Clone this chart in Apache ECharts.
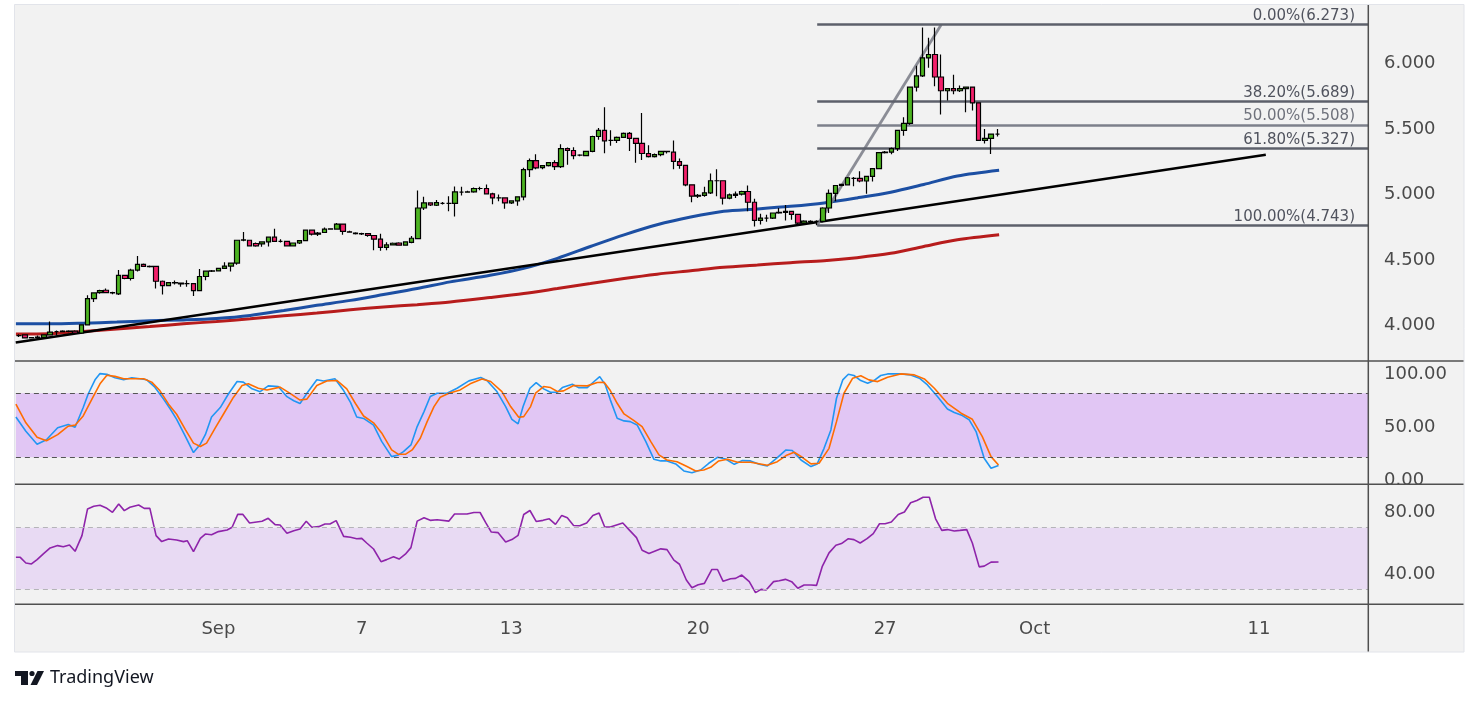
<!DOCTYPE html>
<html><head><meta charset="utf-8">
<script src="https://cdn.jsdelivr.net/npm/echarts@6/dist/echarts.min.js"></script>
<style>html,body{margin:0;padding:0;background:#fff;}#c{width:1479px;height:705px;}</style>
</head><body><div id="c"></div>
<script>
// ---- DATA ----
// candles: [open, close, low, high], 6h bars
const candles = [
[3.90,3.90,3.89,3.91],[3.905,3.882,3.88,3.91],[3.882,3.884,3.88,3.886],[3.887,3.889,3.872,3.90],[3.887,3.905,3.885,3.91],
[3.905,3.926,3.90,4.008],[3.93,3.93,3.90,3.939],[3.93,3.934,3.925,3.94],[3.934,3.932,3.925,3.94],[3.934,3.92,3.915,3.94],
[3.92,3.982,3.915,3.985],[3.982,4.182,3.98,4.208],[4.182,4.226,4.156,4.23],[4.228,4.243,4.22,4.25],[4.246,4.228,4.225,4.259],
[4.226,4.228,4.215,4.235],[4.218,4.359,4.21,4.40],[4.359,4.336,4.33,4.365],[4.336,4.40,4.32,4.41],[4.40,4.444,4.39,4.508],
[4.444,4.428,4.425,4.45],[4.428,4.426,4.42,4.435],[4.428,4.315,4.259,4.43],[4.315,4.282,4.213,4.32],[4.282,4.305,4.28,4.31],
[4.305,4.303,4.29,4.32],[4.30,4.295,4.272,4.30],[4.297,4.297,4.272,4.323],[4.297,4.243,4.203,4.30],[4.243,4.351,4.24,4.408],
[4.351,4.392,4.323,4.395],[4.392,4.394,4.385,4.40],[4.394,4.413,4.39,4.415],[4.413,4.431,4.41,4.459],[4.431,4.454,4.39,4.458],
[4.454,4.628,4.44,4.63],[4.628,4.630,4.62,4.69],[4.628,4.585,4.58,4.63],[4.603,4.585,4.578,4.61],[4.60,4.615,4.578,4.62],
[4.615,4.651,4.58,4.655],[4.651,4.62,4.615,4.715],[4.62,4.62,4.61,4.635],[4.62,4.585,4.58,4.625],[4.585,4.607,4.58,4.61],
[4.607,4.625,4.60,4.63],[4.625,4.705,4.62,4.71],[4.705,4.674,4.665,4.71],[4.674,4.683,4.66,4.69],[4.687,4.713,4.683,4.725],
[4.713,4.715,4.71,4.72],[4.713,4.751,4.71,4.76],[4.751,4.695,4.67,4.755],[4.692,4.690,4.685,4.70],[4.682,4.679,4.672,4.688],
[4.679,4.677,4.667,4.685],[4.679,4.664,4.654,4.682],[4.664,4.636,4.551,4.666],[4.636,4.574,4.548,4.677],[4.574,4.592,4.551,4.613],
[4.592,4.605,4.59,4.61],[4.607,4.59,4.585,4.612],[4.59,4.615,4.587,4.62],[4.612,4.643,4.605,4.66],[4.641,4.874,4.636,5.008],
[4.874,4.913,4.859,4.959],[4.913,4.897,4.89,4.915],[4.895,4.915,4.89,4.936],[4.91,4.91,4.90,4.92],[4.91,4.91,4.849,4.964],
[4.91,4.997,4.81,5.038],[4.995,4.995,4.97,5.036],[4.995,4.997,4.99,5.005],[4.997,5.023,4.99,5.03],[5.023,5.023,5.01,5.036],
[5.023,4.982,4.977,5.054],[4.982,4.951,4.902,4.99],[4.951,4.951,4.926,4.977],[4.951,4.913,4.869,4.955],[4.913,4.928,4.905,4.93],
[4.928,4.959,4.892,4.96],[4.959,5.167,4.933,5.182],[5.167,5.236,5.11,5.251],[5.236,5.18,5.17,5.285],[5.182,5.197,5.17,5.20],
[5.197,5.22,5.19,5.225],[5.22,5.19,5.164,5.238],[5.19,5.328,5.18,5.361],[5.328,5.313,5.205,5.335],[5.313,5.274,5.246,5.338],
[5.277,5.277,5.27,5.285],[5.274,5.307,5.27,5.31],[5.307,5.42,5.30,5.425],[5.42,5.467,5.395,5.484],[5.467,5.387,5.292,5.644],
[5.39,5.39,5.349,5.467],[5.39,5.413,5.37,5.42],[5.413,5.443,5.41,5.45],[5.443,5.405,5.31,5.455],[5.405,5.367,5.22,5.41],
[5.367,5.29,5.241,5.60],[5.29,5.266,5.26,5.354],[5.266,5.282,5.26,5.29],[5.282,5.307,5.27,5.31],[5.305,5.307,5.29,5.31],
[5.30,5.23,5.17,5.39],[5.228,5.20,5.174,5.251],[5.20,5.051,5.04,5.205],[5.051,4.964,4.918,5.055],[4.964,4.97,4.95,4.98],
[4.97,4.99,4.96,5.036],[4.99,5.082,4.98,5.138],[5.082,5.082,4.964,5.169],[5.082,4.949,4.90,5.085],[4.949,4.974,4.94,4.985],
[4.97,4.98,4.95,5.00],[4.98,5.00,4.97,5.005],[5.00,4.918,4.849,5.046],[4.918,4.779,4.733,4.944],[4.779,4.797,4.749,4.831],
[4.797,4.797,4.77,4.823],[4.797,4.836,4.79,4.84],[4.836,4.84,4.83,4.874],[4.84,4.849,4.779,4.897],[4.849,4.826,4.785,4.85],
[4.826,4.759,4.75,4.83],[4.759,4.774,4.75,4.78],[4.77,4.772,4.76,4.78],[4.772,4.772,4.743,4.78],[4.772,4.874,4.765,4.88],
[4.874,4.985,4.836,5.015],[4.985,5.046,4.926,5.05],[5.046,5.054,5.04,5.06],[5.051,5.105,5.045,5.11],[5.10,5.10,5.041,5.11],
[5.10,5.08,5.07,5.154],[5.08,5.115,4.982,5.12],[5.115,5.174,5.077,5.18],[5.174,5.297,5.17,5.30],[5.297,5.30,5.29,5.31],
[5.30,5.328,5.284,5.335],[5.328,5.467,5.31,5.47],[5.467,5.52,5.426,5.567],[5.52,5.797,5.51,5.80],[5.797,5.882,5.764,5.959],
[5.882,6.02,5.875,6.251],[6.02,6.046,5.944,6.174],[6.046,5.874,5.803,6.251],[5.874,5.769,5.587,6.046],[5.769,5.785,5.695,5.79],
[5.785,5.769,5.743,5.892],[5.769,5.785,5.759,5.81],[5.785,5.797,5.605,5.80],[5.797,5.677,5.618,5.80],[5.677,5.39,5.385,5.68],
[5.39,5.405,5.367,5.477],[5.405,5.438,5.287,5.44],[5.438,5.438,5.42,5.477]
];
// moving averages: [bar, price]
const maBlue = [[-0.5,3.990],[5.0,3.990],[10.3,3.995],[15.7,4.003],[21.0,4.013],[26.4,4.020],[31.7,4.031],[37.1,4.054],[42.5,4.092],[47.8,4.131],[53.2,4.169],[58.5,4.213],[63.9,4.259],[69.2,4.310],[75.6,4.36],[81.0,4.413],[86.4,4.490],[91.7,4.580],[97.1,4.669],[102.4,4.746],[107.8,4.805],[113.1,4.849],[118.5,4.867],[123.8,4.887],[129.2,4.913],[134.5,4.951],[139.9,4.995],[145.2,5.054],[150.6,5.118],[157.3,5.162]];
const maRed = [[-0.5,3.913],[5.0,3.915],[10.3,3.931],[15.7,3.951],[21.0,3.969],[26.4,3.990],[31.7,4.008],[37.1,4.028],[42.5,4.051],[47.8,4.072],[53.2,4.097],[58.5,4.118],[63.9,4.136],[69.2,4.156],[75.6,4.19],[81.0,4.221],[86.4,4.259],[91.7,4.297],[97.1,4.336],[102.4,4.369],[107.8,4.395],[113.1,4.421],[118.5,4.439],[123.8,4.457],[129.2,4.472],[134.5,4.495],[139.9,4.528],[145.2,4.580],[150.6,4.631],[157.3,4.669]];
const trendLine = [[-0.53,3.848],[200.1,5.281]];
const fibStart = [128.1,4.743];
const fibEnd = [148.0,6.273];
const fibLevels = [0,0.382,0.5,0.618,1];
const fibPrices = [6.273,5.689,5.508,5.327,4.743];
// stochastic %K / %D and RSI: [bar, value]
const stochK = [[-0.5,57.7],[1.1,44.4],[2.9,32.3],[4.4,36.4],[6.2,47.6],[7.9,50.7],[9.0,48.2],[10.3,66.6],[11.1,79.3],[12.2,92.6],[13.0,98.4],[14.1,97.7],[15.4,94.5],[16.8,92.6],[18.1,94.5],[19.4,93.6],[20.5,92.6],[21.8,85.7],[23.2,74.5],[24.3,65.0],[25.3,55.5],[26.7,39.6],[28.0,24.4],[29.1,32.3],[29.9,41.2],[30.9,57.7],[32.3,66.6],[33.6,79.3],[35.0,91.0],[36.0,90.4],[37.4,84.1],[38.7,81.5],[40.0,86.9],[41.6,86.3],[43.0,76.8],[44.1,73.0],[45.1,70.4],[46.2,79.9],[47.8,92.6],[48.9,91.4],[50.7,93.6],[52.1,82.5],[53.2,71.4],[54.2,57.7],[55.3,56.4],[56.9,50.1],[58.2,34.9],[59.8,20.6],[60.9,22.2],[61.7,25.3],[62.9,31.6],[63.9,48.8],[65.0,62.8],[66.0,76.9],[67.1,80.0],[68.7,80.0],[70.3,84.7],[72.2,91.6],[74.1,94.7],[75.1,91.9],[76.7,81.6],[78.1,67.5],[79.1,55.6],[80.1,51.3],[80.9,67.5],[82.0,84.7],[83.0,90.0],[84.2,84.1],[85.3,80.9],[86.4,80.9],[87.2,85.3],[88.8,88.4],[89.8,85.3],[91.2,85.3],[92.3,91.0],[93.2,95.6],[94.1,87.8],[94.9,73.8],[96.0,56.6],[97.1,54.1],[98.1,53.4],[99.2,50.3],[100.6,34.7],[101.9,18.1],[103.0,16.6],[104.0,16.6],[105.4,13.8],[106.7,7.2],[108.0,5.6],[109.4,8.1],[110.7,14.4],[112.1,20.0],[113.4,18.4],[114.8,13.4],[116.1,16.9],[117.4,16.6],[118.8,13.4],[120.1,11.9],[121.7,19.7],[123.1,26.9],[124.1,26.3],[125.5,17.5],[127.1,11.3],[128.1,13.8],[129.2,28.4],[130.3,45.6],[131.2,75.3],[132.2,92.5],[133.1,97.8],[134.0,96.6],[135.1,91.9],[136.2,89.4],[137.2,91.9],[138.3,96.6],[139.4,98.1],[141.5,98.1],[143.1,97.2],[144.5,94.1],[145.8,87.8],[147.4,76.9],[149.0,65.3],[150.1,61.9],[151.4,59.1],[152.5,55.0],[153.6,44.1],[154.9,19.1],[156.0,9.7],[157.2,12.2]];
const stochD = [[-0.5,69.8],[1.1,52.3],[2.9,38.7],[4.4,35.5],[6.2,41.2],[7.9,49.1],[9.0,50.1],[10.3,58.7],[11.7,74.5],[13.0,88.8],[14.1,96.8],[15.4,95.8],[16.8,93.6],[18.1,93.6],[20.0,93.6],[21.3,90.4],[22.6,82.5],[24.0,69.8],[25.3,60.3],[26.7,46.0],[28.0,33.3],[29.1,30.1],[30.1,33.3],[31.5,47.6],[32.8,60.3],[34.4,76.1],[35.8,87.2],[36.8,88.8],[38.4,84.7],[39.8,83.1],[41.9,85.7],[43.5,79.9],[45.1,73.6],[46.2,74.5],[47.8,87.2],[49.4,91.4],[51.0,92.0],[52.6,84.1],[54.0,70.4],[55.3,58.7],[56.9,52.3],[58.2,42.8],[59.8,26.9],[60.9,22.8],[62.0,22.8],[63.1,26.9],[64.4,37.8],[65.5,53.4],[66.6,67.5],[67.6,76.3],[69.0,80.0],[70.8,83.1],[72.4,88.8],[74.3,93.4],[75.7,91.0],[77.5,81.6],[78.9,67.5],[80.2,57.5],[81.0,58.1],[82.1,67.5],[82.9,80.0],[84.2,86.3],[85.3,85.3],[86.4,81.6],[87.4,82.2],[89.0,87.2],[91.2,86.9],[92.8,90.0],[93.9,90.3],[94.9,82.5],[96.0,70.6],[97.1,60.6],[98.7,54.4],[100.0,48.8],[101.4,34.7],[102.7,22.2],[104.0,17.5],[105.6,15.9],[107.2,11.3],[108.6,7.2],[109.9,8.1],[111.0,10.6],[112.3,16.6],[113.7,18.1],[115.3,15.3],[117.4,15.3],[120.1,12.5],[121.7,15.9],[123.1,21.6],[124.4,24.7],[125.7,20.0],[127.1,13.8],[128.4,14.4],[130.0,28.4],[131.2,53.4],[132.4,80.0],[133.8,94.1],[135.1,96.3],[136.4,92.5],[137.8,90.9],[139.4,95.0],[141.5,98.1],[143.7,97.2],[145.3,93.4],[146.9,84.7],[149.0,70.6],[151.2,61.3],[153.0,55.6],[154.6,39.4],[156.0,20.6],[157.2,12.8]];
const rsi = [[-0.5,50.8],[0.2,50.8],[1.1,47.1],[2.0,46.5],[2.9,49.3],[3.9,53.0],[5.0,56.9],[6.2,58.4],[7.1,57.7],[8.1,58.8],[9.0,54.7],[10.1,64.9],[11.0,82.2],[12.0,83.9],[13.0,84.6],[14.1,82.6],[15.0,80.0],[16.0,85.4],[16.9,81.1],[17.8,83.3],[19.2,84.8],[20.1,82.6],[21.0,82.6],[22.0,64.9],[22.9,61.0],[24.0,62.7],[25.3,62.0],[26.4,61.0],[27.0,61.6],[28.0,54.5],[29.1,63.1],[29.9,65.9],[30.9,65.5],[32.0,67.5],[33.4,68.5],[34.2,70.3],[35.1,78.7],[35.9,78.7],[37.0,73.1],[39.0,74.2],[40.0,76.1],[41.1,72.0],[41.9,71.8],[43.0,66.4],[44.1,68.1],[45.1,69.2],[46.1,74.2],[47.0,70.3],[48.1,70.7],[49.1,72.4],[49.9,72.4],[50.9,74.6],[52.1,64.4],[53.2,63.8],[54.2,62.9],[55.0,63.1],[55.8,60.1],[56.9,56.2],[58.1,48.0],[59.0,49.3],[60.1,51.2],[61.0,49.7],[62.0,52.8],[62.9,57.1],[63.9,74.3],[65.0,76.5],[66.0,74.8],[67.1,75.2],[69.0,74.3],[69.9,78.9],[71.9,78.9],[73.0,79.9],[74.0,79.9],[74.9,73.3],[75.8,67.2],[76.9,66.8],[78.1,60.8],[79.1,62.3],[80.1,65.1],[81.0,78.6],[82.0,81.2],[83.0,74.1],[84.1,74.8],[85.1,75.8],[86.1,72.2],[87.1,78.0],[88.0,76.5],[89.0,71.5],[90.0,71.3],[91.1,73.1],[92.1,78.0],[93.1,79.5],[94.0,70.5],[94.9,70.5],[96.9,73.1],[98.0,68.3],[99.1,63.6],[100.0,55.4],[101.1,53.3],[103.0,56.3],[104.0,55.8],[105.1,49.0],[106.0,46.3],[107.1,36.1],[108.0,31.1],[109.0,33.0],[110.0,33.9],[111.2,42.9],[112.1,42.9],[113.0,35.2],[114.2,36.9],[115.0,37.1],[116.0,39.3],[117.2,35.0],[118.2,27.9],[119.1,30.0],[119.9,29.6],[121.1,35.0],[122.0,35.6],[123.0,36.5],[124.0,35.0],[125.0,30.7],[126.0,32.8],[127.1,32.8],[128.0,32.6],[128.9,44.7],[130.0,53.7],[131.1,58.6],[132.0,59.7],[133.1,62.9],[134.0,62.3],[135.0,60.1],[136.1,62.9],[137.1,66.2],[138.1,72.6],[139.0,72.6],[140.0,73.7],[141.1,78.6],[142.1,80.2],[143.1,86.2],[144.1,87.7],[145.1,89.8],[146.1,89.8],[147.1,75.8],[148.1,68.3],[149.0,68.8],[150.1,67.9],[151.0,68.3],[152.1,68.8],[153.0,60.1],[154.1,44.6],[154.9,45.1],[156.0,47.7],[157.2,47.8]];
const stochBand = [20,80];
const rsiBand = [30,70];
const priceTicks = [4,4.5,5,5.5,6];
const stochTicks = [0,50,100];
const rsiTicks = [40,80];
const xTickLabels = ['Sep','7','13','20','27','Oct','11'];
const xTickBars = [32,55,79,109,139,163,199];
const SLOTS = 217;

// ---- CHART ----
const FONT = 'DejaVu Sans';
const AXC = '#4a4a4a';
const cats = Array.from({length: SLOTS}, (_, i) => String(i));
const L = 15.9, R = 111;
const chart = echarts.init(document.getElementById('c'), null, {renderer: 'canvas'});

const fibMark = fibLevels.map((lv, k) => [
  {coord: [fibStart[0], fibPrices[k]],
   lineStyle: {color: lv === 0.5 ? '#7d808b' : '#5d606b', width: 2.5, type: 'solid'},
   label: {show: true, position: 'insideEndTop', distance: [13, 1],
     formatter: (lv * 100).toFixed(2) + '%(' + fibPrices[k].toFixed(3) + ')',
     color: lv === 0.5 ? '#6f727c' : '#50535e', fontSize: 15, fontFamily: FONT}},
  {coord: [SLOTS - 0.5, fibPrices[k]]}
]);

const hidX = (gi) => ({type: 'value', gridIndex: gi, min: -0.5, max: SLOTS - 0.5, show: false});
// lineHeight smaller than the font with top alignment nudges the label a few px below its tick
const yLab = (vals, dec, shift) => ({customValues: vals, margin: 16, color: AXC, fontSize: 18, fontFamily: FONT,
  verticalAlign: shift > 0 ? 'top' : 'middle', lineHeight: shift > 0 ? shift * 2 : 22, formatter: v => v.toFixed(dec)});

chart.setOption({
  animation: false,
  backgroundColor: '#ffffff',
  grid: [
    {left: L, right: R, top: 5, height: 356},
    {left: L, right: R, top: 361, height: 123.3},
    {left: L, right: R, top: 484.3, height: 120}
  ],
  xAxis: [
    {type: 'category', gridIndex: 0, data: cats, boundaryGap: true, show: false},
    hidX(0), hidX(1),
    {type: 'value', gridIndex: 2, min: -0.5, max: SLOTS - 0.5,
     axisLine: {show: false}, axisTick: {show: false}, splitLine: {show: false},
     axisLabel: {customValues: xTickBars, margin: 16, color: AXC, fontSize: 18, fontFamily: FONT,
       formatter: v => { const k = xTickBars.indexOf(Math.round(v)); return k >= 0 ? xTickLabels[k] : ''; }}}
  ],
  yAxis: [
    {type: 'value', gridIndex: 0, position: 'right', min: 3.7061, max: 6.4237,
     axisLine: {show: false}, axisTick: {show: false}, splitLine: {show: false},
     axisLabel: yLab(priceTicks, 3, 3)},
    {type: 'value', gridIndex: 1, position: 'right', min: -5.3, max: 110.2,
     axisLine: {show: false}, axisTick: {show: false}, splitLine: {show: false},
     axisLabel: yLab(stochTicks, 2, 2)},
    {type: 'value', gridIndex: 2, position: 'right', min: 20.3, max: 98.2, z: 6,
     axisLine: {show: false}, axisTick: {show: false}, splitLine: {show: false},
     axisLabel: yLab(rsiTicks, 2, 0)}
  ],
  series: [
    {type: 'line', xAxisIndex: 1, yAxisIndex: 0, data: maRed, showSymbol: false, smooth: 0.3, z: 3,
     lineStyle: {color: '#b71c1c', width: 3}, silent: true},
    {type: 'line', xAxisIndex: 1, yAxisIndex: 0, data: maBlue, showSymbol: false, smooth: 0.3, z: 3,
     lineStyle: {color: '#1c4fa3', width: 3}, silent: true},
    {type: 'line', xAxisIndex: 1, yAxisIndex: 0, data: trendLine, showSymbol: false, z: 3,
     lineStyle: {color: '#000000', width: 2.6}, silent: true},
    {type: 'line', xAxisIndex: 1, yAxisIndex: 0, data: [fibStart, fibEnd], showSymbol: false, z: 3,
     lineStyle: {color: 'rgba(128,130,140,0.9)', width: 2.8}, silent: true,
     markLine: {silent: true, symbol: ['none', 'none'], animation: false, data: fibMark}},
    {type: 'candlestick', xAxisIndex: 0, yAxisIndex: 0, data: candles, barWidth: 5, z: 5,
     itemStyle: {color: '#4cb321', color0: '#f2206a', borderColor: '#000000', borderColor0: '#000000', borderWidth: 1.2}},
    {type: 'line', xAxisIndex: 2, yAxisIndex: 1, data: stochK, showSymbol: false, z: 3,
     lineStyle: {color: '#2196f3', width: 1.6}, silent: true,
     markArea: {silent: true, itemStyle: {color: '#e1c6f4'}, data: [[{yAxis: stochBand[0]}, {yAxis: stochBand[1]}]]},
     markLine: {silent: true, symbol: ['none', 'none'], label: {show: false},
       lineStyle: {color: '#555', type: [5, 4], width: 1}, data: [{yAxis: stochBand[1]}, {yAxis: stochBand[0]}]}},
    {type: 'line', xAxisIndex: 2, yAxisIndex: 1, data: stochD, showSymbol: false, z: 4,
     lineStyle: {color: '#ff6d00', width: 1.6}, silent: true},
    {type: 'line', xAxisIndex: 3, yAxisIndex: 2, data: rsi, showSymbol: false, z: 3,
     lineStyle: {color: '#8e24aa', width: 1.6}, silent: true,
     markArea: {silent: true, itemStyle: {color: '#e8daf3'}, data: [[{yAxis: rsiBand[0]}, {yAxis: rsiBand[1]}]]},
     markLine: {silent: true, symbol: ['none', 'none'], label: {show: false},
       lineStyle: {color: '#b4b4b8', type: [5, 4], width: 1}, data: [{yAxis: rsiBand[1]}, {yAxis: rsiBand[0]}]}}
  ],
  graphic: [
    {type: 'rect', z: -10, silent: true, shape: {x: 14.5, y: 4.5, width: 1449.5, height: 647.5},
     style: {fill: '#f2f2f2', stroke: '#e2e4ea', lineWidth: 1}},
    {type: 'rect', z: 4, silent: true, shape: {x: 1369, y: 485, width: 94, height: 119},
     style: {fill: '#f2f2f2'}},
    {type: 'line', z: 8, silent: true, shape: {x1: 15, y1: 361, x2: 1463.5, y2: 361}, style: {stroke: '#505050', lineWidth: 1.5}},
    {type: 'line', z: 8, silent: true, shape: {x1: 15, y1: 484.3, x2: 1463.5, y2: 484.3}, style: {stroke: '#505050', lineWidth: 1.5}},
    {type: 'line', z: 8, silent: true, shape: {x1: 15, y1: 604.3, x2: 1463.5, y2: 604.3}, style: {stroke: '#505050', lineWidth: 1.5}},
    {type: 'line', z: 8, silent: true, shape: {x1: 1368.3, y1: 5, x2: 1368.3, y2: 651.5}, style: {stroke: '#505050', lineWidth: 1.5}},
    // TradingView logo
    {type: 'rect', silent: true, shape: {x: 15, y: 671, width: 13, height: 5}, style: {fill: '#131722'}},
    {type: 'rect', silent: true, shape: {x: 21, y: 671, width: 7, height: 14}, style: {fill: '#131722'}},
    {type: 'circle', silent: true, shape: {cx: 32, cy: 673.5, r: 2.6}, style: {fill: '#131722'}},
    {type: 'polygon', silent: true, shape: {points: [[30.5, 685], [37, 685], [44, 671], [37.5, 671]]}, style: {fill: '#131722'}},
    {type: 'text', silent: true, x: 50, y: 678, style: {text: 'TradingView', fill: '#131722', fontSize: 18, fontFamily: 'Noto Sans', verticalAlign: 'middle', align: 'left'}}
  ]
});
</script>
</body></html>
